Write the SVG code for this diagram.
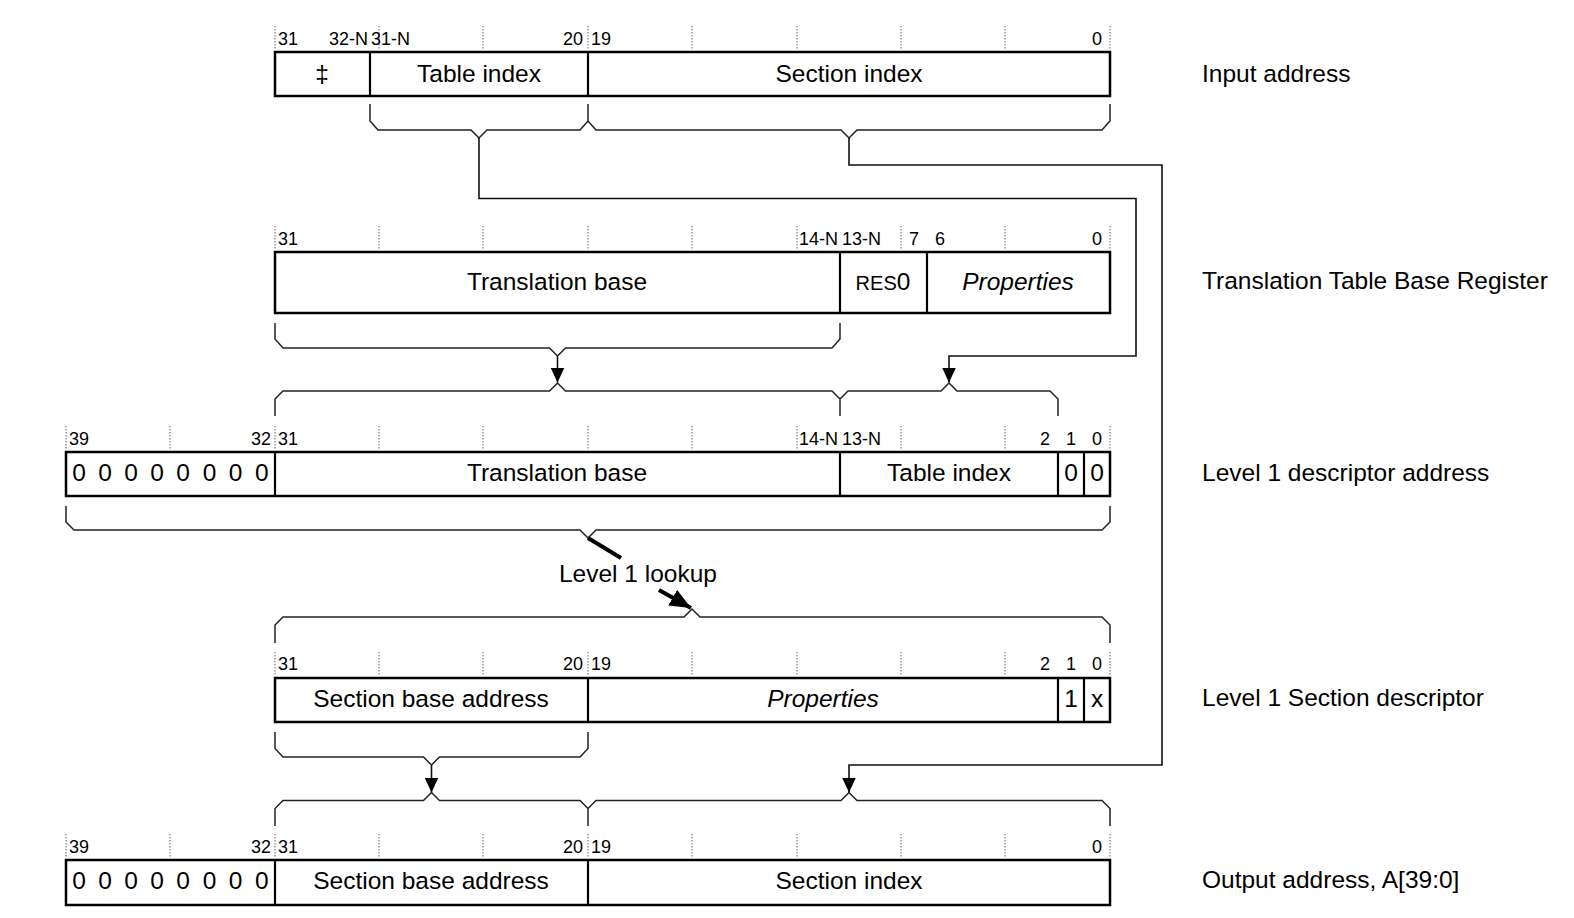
<svg xmlns="http://www.w3.org/2000/svg" width="1574" height="918" viewBox="0 0 1574 918">
<style>
.box{fill:#fff;stroke:#000;stroke-width:2.5}
.div{stroke:#000;stroke-width:2.2;fill:none}
.tick{stroke:#666;stroke-width:1;stroke-dasharray:1.5,1.5;fill:none}
.br{fill:none;stroke:#222;stroke-width:1.5}
.con{fill:none;stroke:#111;stroke-width:1.6}
.t{font-family:"Liberation Sans",Arial,sans-serif;font-size:24.5px;fill:#000}
.s{font-family:"Liberation Sans",Arial,sans-serif;font-size:20px;fill:#000}
.c{text-anchor:middle}
.e{text-anchor:end}
.n{font-family:"Liberation Sans",Arial,sans-serif;font-size:18px;fill:#000}
.i{font-style:italic}
</style>
<defs>
<marker id="ah" markerUnits="userSpaceOnUse" markerWidth="16" markerHeight="14" refX="15" refY="7" orient="auto">
<path d="M0,0 L15,7 L0,14 Z" fill="#000"/>
</marker>
<marker id="ahb" markerUnits="userSpaceOnUse" markerWidth="22" markerHeight="18" refX="21" refY="9" orient="auto">
<path d="M0,0 L21,9 L0,18 Z" fill="#000"/>
</marker>
</defs>

<g id="input-address">
<path class="tick" d="M275 26V50M379 26V50M483 26V50M588 26V50M692 26V50M797 26V50M901 26V50M1005 26V50M1110 26V50"/>
<text class="n c" x="288" y="45">31</text>
<text class="n e" x="368" y="45">32-N</text>
<text class="n" x="371" y="45">31-N</text>
<text class="n c" x="573" y="45">20</text>
<text class="n c" x="601" y="45">19</text>
<text class="n c" x="1097" y="45">0</text>
<rect class="box" x="275" y="52" width="835" height="44"/>
<path class="div" d="M370 52V96M588 52V96"/>
<text class="t c" x="322" y="82">‡</text>
<text class="t c" x="479" y="82">Table index</text>
<text class="t c" x="849" y="82">Section index</text>
<text class="t" x="1202" y="82">Input address</text>
</g>

<g id="ttbr">
<path class="tick" d="M275 226V250M379 226V250M483 226V250M588 226V250M692 226V250M797 226V250M901 226V250M1005 226V250M1110 226V250"/>
<text class="n c" x="288" y="245">31</text>
<text class="n e" x="838" y="245">14-N</text>
<text class="n" x="842" y="245">13-N</text>
<text class="n c" x="914" y="245">7</text>
<text class="n c" x="940" y="245">6</text>
<text class="n c" x="1097" y="245">0</text>
<rect class="box" x="275" y="252" width="835" height="61"/>
<path class="div" d="M840 252V313M927 252V313"/>
<text class="t c" x="557" y="290">Translation base</text>
<text class="c" x="883" y="290"><tspan class="s">RES</tspan><tspan class="t">0</tspan></text>
<text class="t c i" x="1018" y="290">Properties</text>
<text class="t" x="1202" y="289">Translation Table Base Register</text>
</g>

<g id="l1-descriptor-address">
<path class="tick" d="M66 426V450M170 426V450M275 426V450M379 426V450M483 426V450M588 426V450M692 426V450M797 426V450M901 426V450M1005 426V450M1110 426V450"/>
<text class="n c" x="79" y="445">39</text>
<text class="n c" x="261" y="445">32</text>
<text class="n c" x="288" y="445">31</text>
<text class="n e" x="838" y="445">14-N</text>
<text class="n" x="842" y="445">13-N</text>
<text class="n c" x="1045" y="445">2</text>
<text class="n c" x="1071" y="445">1</text>
<text class="n c" x="1097" y="445">0</text>
<rect class="box" x="66" y="452" width="1044" height="44"/>
<path class="div" d="M275 452V496M840 452V496M1058 452V496M1084 452V496"/>
<text class="t c" x="79" y="481">0</text><text class="t c" x="105" y="481">0</text><text class="t c" x="131" y="481">0</text><text class="t c" x="157" y="481">0</text><text class="t c" x="183" y="481">0</text><text class="t c" x="209.5" y="481">0</text><text class="t c" x="235.6" y="481">0</text><text class="t c" x="261.7" y="481">0</text>
<text class="t c" x="557" y="481">Translation base</text>
<text class="t c" x="949" y="481">Table index</text>
<text class="t c" x="1071" y="481">0</text>
<text class="t c" x="1097" y="481">0</text>
<text class="t" x="1202" y="481">Level 1 descriptor address</text>
</g>

<g id="l1-section-descriptor">
<path class="tick" d="M275 652V676M379 652V676M483 652V676M588 652V676M692 652V676M797 652V676M901 652V676M1005 652V676M1110 652V676"/>
<text class="n c" x="288" y="670">31</text>
<text class="n c" x="573" y="670">20</text>
<text class="n c" x="601" y="670">19</text>
<text class="n c" x="1045" y="670">2</text>
<text class="n c" x="1071" y="670">1</text>
<text class="n c" x="1097" y="670">0</text>
<rect class="box" x="275" y="678" width="835" height="44"/>
<path class="div" d="M588 678V722M1058 678V722M1084 678V722"/>
<text class="t c" x="431" y="707">Section base address</text>
<text class="t c i" x="823" y="707">Properties</text>
<text class="t c" x="1071" y="707">1</text>
<text class="t c" x="1097" y="707">x</text>
<text class="t" x="1202" y="706">Level 1 Section descriptor</text>
</g>

<g id="output-address">
<path class="tick" d="M66 834V858M170 834V858M275 834V858M379 834V858M483 834V858M588 834V858M692 834V858M797 834V858M901 834V858M1005 834V858M1110 834V858"/>
<text class="n c" x="79" y="853">39</text>
<text class="n c" x="261" y="853">32</text>
<text class="n c" x="288" y="853">31</text>
<text class="n c" x="573" y="853">20</text>
<text class="n c" x="601" y="853">19</text>
<text class="n c" x="1097" y="853">0</text>
<rect class="box" x="66" y="860" width="1044" height="45"/>
<path class="div" d="M275 860V905M588 860V905"/>
<text class="t c" x="79" y="889">0</text><text class="t c" x="105" y="889">0</text><text class="t c" x="131" y="889">0</text><text class="t c" x="157" y="889">0</text><text class="t c" x="183" y="889">0</text><text class="t c" x="209.5" y="889">0</text><text class="t c" x="235.6" y="889">0</text><text class="t c" x="261.7" y="889">0</text>
<text class="t c" x="431" y="889">Section base address</text>
<text class="t c" x="849" y="889">Section index</text>
<text class="t" x="1202" y="888">Output address, A[39:0]</text>
</g>

<g id="connectors">
<path class="br" d="M370 104V121L378 130H471L479 138L487 130H580L588 121V104M588 121L596 130H841L849 138L857 130H1102L1110 121V104"/>
<path class="con" d="M479 138V198.5H1136V356H949V382.5" marker-end="url(#ah)"/>
<path class="con" d="M849 138V165H1162V765H849V792.5" marker-end="url(#ah)"/>
<path class="br" d="M275 323V339L283 348H549.5L557.5 356L565.5 348H832L840 339V323"/>
<path class="con" d="M557.5 356V382.5" marker-end="url(#ah)"/>
<path class="br" d="M275 416V399L283 391H549.5L557.5 383L565.5 391H832L840 399V416M840 399L848 391H941L949 383L957 391H1050L1058 399V416"/>
<path class="br" d="M66 506V522L74 530H580L588 538L596 530H1102L1110 522V506"/>
<path d="M588 538L621 558" stroke="#000" stroke-width="4" fill="none"/>
<text class="t c" x="638" y="582">Level 1 lookup</text>
<path d="M659 590L691 608" stroke="#000" stroke-width="4" fill="none" marker-end="url(#ahb)"/>
<path class="br" d="M275 643V625L283 617H684L692 609L700 617H1102L1110 625V643"/>
<path class="br" d="M275 732V748.5L283 757H423.5L431.5 765L439.5 757H580L588 748.5V732"/>
<path class="con" d="M431.5 765V792.5" marker-end="url(#ah)"/>
<path class="br" d="M275 826V808.5L283 800.5H423.5L431.5 792.5L439.5 800.5H580L588 808.5V826M588 808.5L596 800.5H841L849 792.5L857 800.5H1102L1110 808.5V826"/>
</g>
</svg>
